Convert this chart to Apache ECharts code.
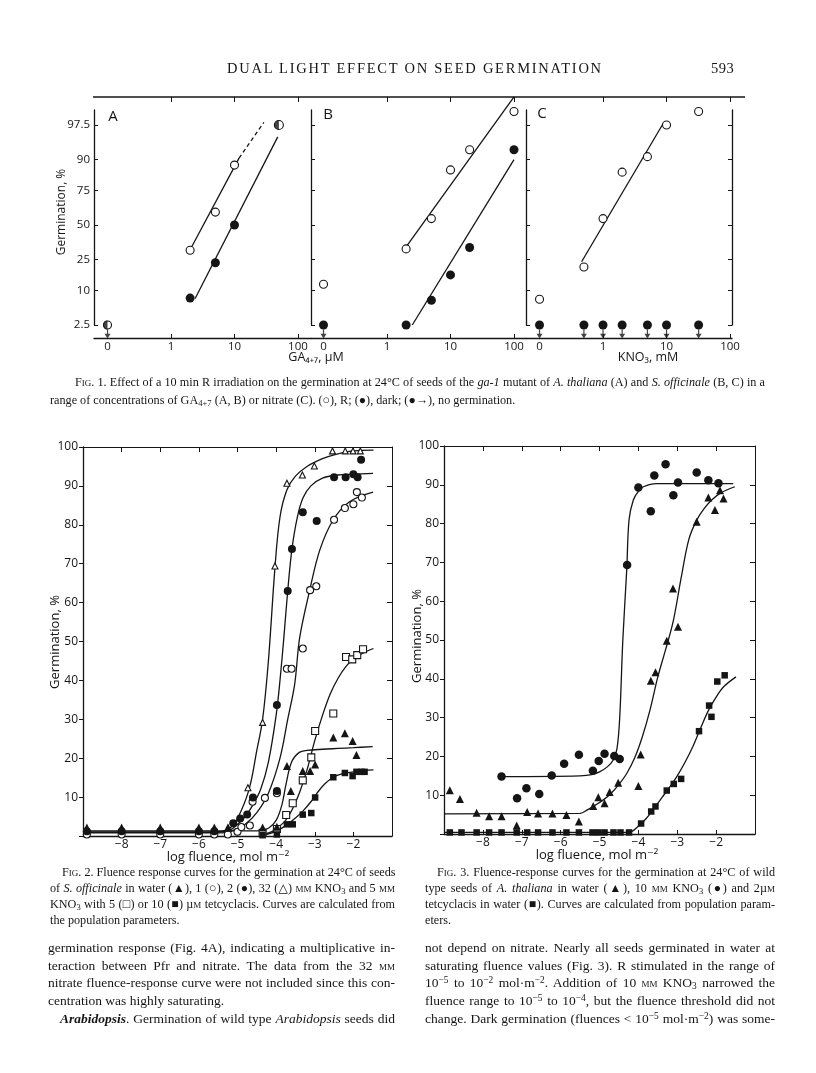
<!DOCTYPE html>
<html>
<head>
<meta charset="utf-8">
<script src="https://cdn.jsdelivr.net/npm/echarts@6/dist/echarts.min.js"></script>
<style>
  body { margin: 0; background: #fff; }
  #page { position: relative; width: 816px; height: 1073px; overflow: hidden; background: #fff; }
  #chart { position: absolute; left: 0; top: 0; width: 816px; height: 1073px; }
  .t { position: absolute; font-family: "Liberation Serif", "DejaVu Serif", serif; color: #151515; white-space: nowrap; line-height: 14px; }
  .j { text-align: justify; text-align-last: justify; }
  .cap { font-size: 12.2px; }
  .body { font-size: 13.5px; }
  .sc { font-variant: small-caps; }
  sub, sup { font-size: 70%; line-height: 0; }
  sub { vertical-align: -0.25em; }
  sup { vertical-align: 0.45em; }
</style>
</head>
<body>
<div id="page">
  <div id="chart"></div>

  <!-- running head -->
  <div class="t" style="left:227px;top:61px;font-size:14.5px;letter-spacing:1.75px;">DUAL LIGHT EFFECT ON SEED GERMINATION</div>
  <div class="t" style="left:711px;top:61px;font-size:14.5px;letter-spacing:0.5px;">593</div>

  <!-- Fig. 1 caption -->
  <div class="t cap j" style="left:75px;top:375px;width:690px;"><span class="sc">Fig.</span> 1. Effect of a 10 min R irradiation on the germination at 24°C of seeds of the <i>ga-1</i> mutant of <i>A. thaliana</i> (A) and <i>S. officinale</i> (B, C) in a</div>
  <div class="t cap" style="left:50px;top:393px;">range of concentrations of GA<sub>4+7</sub> (A, B) or nitrate (C). (○), R; (●), dark; (●→), no germination.</div>

  <!-- Fig. 2 caption -->
  <div class="t cap j" style="left:62px;top:865px;width:333px;"><span class="sc">Fig.</span> 2. Fluence response curves for the germination at 24°C of seeds</div>
  <div class="t cap j" style="left:50px;top:881px;width:345px;">of <i>S. officinale</i> in water (▲), 1 (○), 2 (●), 32 (△) <span class="sc">mm</span> KNO<sub>3</sub> and 5 <span class="sc">mm</span></div>
  <div class="t cap j" style="left:50px;top:897px;width:345px;">KNO<sub>3</sub> with 5 (□) or 10 (■) µ<span class="sc">m</span> tetcyclacis. Curves are calculated from</div>
  <div class="t cap" style="left:50px;top:913px;">the population parameters.</div>

  <!-- Fig. 3 caption -->
  <div class="t cap j" style="left:437px;top:865px;width:338px;"><span class="sc">Fig.</span> 3. Fluence-response curves for the germination at 24°C of wild</div>
  <div class="t cap j" style="left:425px;top:881px;width:350px;">type seeds of <i>A. thaliana</i> in water (▲), 10 <span class="sc">mm</span> KNO<sub>3</sub> (●) and 2µ<span class="sc">m</span></div>
  <div class="t cap j" style="left:425px;top:897px;width:350px;">tetcyclacis in water (■). Curves are calculated from population param-</div>
  <div class="t cap" style="left:425px;top:913px;">eters.</div>

  <!-- body text, left column -->
  <div class="t body j" style="left:48px;top:941px;width:347px;">germination response (Fig. 4A), indicating a multiplicative in-</div>
  <div class="t body j" style="left:48px;top:959px;width:347px;">teraction between Pfr and nitrate. The data from the 32 <span class="sc">mm</span></div>
  <div class="t body j" style="left:48px;top:976px;width:347px;">nitrate fluence-response curve were not included since this con-</div>
  <div class="t body" style="left:48px;top:994px;">centration was highly saturating.</div>
  <div class="t body j" style="left:60px;top:1012px;width:335px;"><b><i>Arabidopsis</i></b>. Germination of wild type <i>Arabidopsis</i> seeds did</div>

  <!-- body text, right column -->
  <div class="t body j" style="left:425px;top:941px;width:350px;">not depend on nitrate. Nearly all seeds germinated in water at</div>
  <div class="t body j" style="left:425px;top:959px;width:350px;">saturating fluence values (Fig. 3). R stimulated in the range of</div>
  <div class="t body j" style="left:425px;top:976px;width:350px;">10<sup>−5</sup> to 10<sup>−2</sup> mol·m<sup>−2</sup>. Addition of 10 <span class="sc">mm</span> KNO<sub>3</sub> narrowed the</div>
  <div class="t body j" style="left:425px;top:994px;width:350px;">fluence range to 10<sup>−5</sup> to 10<sup>−4</sup>, but the fluence threshold did not</div>
  <div class="t body j" style="left:425px;top:1012px;width:350px;">change. Dark germination (fluences &lt; 10<sup>−5</sup> mol·m<sup>−2</sup>) was some-</div>
</div>

<script>
// ---------- Fig. 1 data (conc. µM GA4+7 or mM KNO3; 0 = none added; germination %) ----------
const probitTicks = [2.5, 10, 25, 50, 75, 90, 97.5];
const concTickPos = [-1, 0, 1, 2];
const concTickLabels = ['0', '1', '10', '100'];

// panel A: ga-1 mutant, GA4+7
const aLightConc = [2, 5, 10];
const aLightPct = [31, 60, 88];
const aDarkConc = [2, 5, 10];
const aDarkPct = [7.6, 23, 50];
const aBothConc = [50];
const aBothPct = [97.5];
const aNoneConc = [0];
const aNonePct = [2.5];
const aLightFitConc = [2.12, 11.8];
const aLightFitPct = [33.5, 90.5];
const aLightDashConc = [11.8, 29];
const aLightDashPct = [90.5, 97.8];
const aDarkFitConc = [2.4, 48];
const aDarkFitPct = [7.5, 95.8];

// panel B: S. officinale, GA4+7
const bLightConc = [0, 2, 5, 10, 20, 100];
const bLightPct = [12.3, 32, 55, 86, 93, 98.7];
const bDarkConc = [2, 5, 10, 20, 100];
const bDarkPct = [2.5, 7, 16.4, 33, 93];
const bNoneConc = [0];
const bNonePct = [2.5];
const bLightFitConc = [2, 100];
const bLightFitPct = [33.4, 99.4];
const bDarkFitConc = [2.5, 100];
const bDarkFitPct = [2.5, 90];

// panel C: S. officinale, KNO3
const cLightConc = [0, 0.5, 1, 2, 5, 10, 32];
const cLightPct = [7.3, 20.5, 55, 85, 91, 97.5, 98.7];
const cNoneConc = [0, 0.5, 1, 2, 5, 10, 32];
const cNonePct = [2.5, 2.5, 2.5, 2.5, 2.5, 2.5, 2.5];
const cLightFitConc = [0.46, 8.9];
const cLightFitPct = [23.6, 97.7];

// ---------- Fig. 2 data: S. officinale, log fluence vs germination % ----------
const f2WaterX = [-8.9, -8, -7, -6, -5.6, -5.25, -4.35, -3.98, -3.72, -3.62, -3.31, -3.12, -2.99, -2.52, -2.22, -2.02, -1.92];
const f2WaterY = [2.2, 2.2, 2.2, 2.2, 2.2, 2.2, 2.2, 2.4, 18, 11.6, 16.7, 16.7, 18.4, 25.3, 26.4, 24.4, 20.8];
const f2No3_1X = [-8.9, -8, -7, -6, -5.6, -5.25, -5.0, -4.9, -4.68, -4.61, -4.29, -3.98, -3.72, -3.6, -3.31, -3.12, -2.96, -2.5, -2.22, -2.0, -1.91, -1.78];
const f2No3_1Y = [0.4, 0.4, 0.4, 0.4, 0.4, 0.4, 1.1, 2.3, 2.7, 8.8, 9.8, 11, 43, 43, 48.2, 63.2, 64.2, 81.3, 84.3, 85.3, 88.4, 87];
const f2No3_2X = [-8.9, -8, -7, -6, -5.6, -5.11, -4.93, -4.75, -4.6, -3.98, -3.98, -3.70, -3.59, -3.31, -2.95, -2.5, -2.2, -2.0, -1.89, -1.8];
const f2No3_2Y = [1.2, 1.2, 1.2, 1.2, 1.2, 3.3, 4.5, 5.5, 9.9, 11.6, 33.7, 63, 73.8, 83.2, 81, 92.2, 92.2, 93, 92.2, 96.7];
const f2No3_32X = [-8.9, -8, -7, -6, -5.6, -5.24, -4.73, -4.35, -4.03, -3.72, -3.32, -3.01, -2.54, -2.21, -2.01, -1.82];
const f2No3_32Y = [1.6, 1.6, 1.6, 1.6, 1.6, 2, 12.4, 29.2, 69.4, 90.7, 92.8, 95.1, 99, 99, 99, 99];
const f2Tet5X = [-4.35, -3.98, -3.74, -3.57, -3.31, -3.09, -2.99, -2.52, -2.19, -2.03, -1.9, -1.75];
const f2Tet5Y = [0.8, 1.8, 5.4, 8.4, 14.3, 20.2, 27, 31.5, 46, 45.4, 46.5, 48];
const f2Tet10X = [-4.35, -3.98, -3.72, -3.57, -3.31, -3.09, -2.99, -2.52, -2.22, -2.02, -1.92, -1.79, -1.71];
const f2Tet10Y = [0.2, 0.4, 3, 3, 5.5, 5.9, 9.9, 15.1, 16.2, 15.4, 16.5, 16.5, 16.5];
// curves
const f2WaterCurveX = [-9, -4.5, -4.2, -4.0, -3.85, -3.75, -3.6, -3.4, -3.2, -2.8, -2.4, -2.0, -1.5];
const f2WaterCurveY = [1.3, 1.3, 2, 4, 8, 13, 19, 21.5, 22, 22.3, 22.5, 22.7, 23];
const f2No3_1CurveX = [-9, -5.4, -5.1, -4.8, -4.5, -4.2, -3.9, -3.7, -3.52, -3.39, -3.13, -2.87, -2.52, -2.09, -1.49];
const f2No3_1CurveY = [0.8, 0.8, 1.5, 3, 6, 11, 20, 30, 39, 51, 63.2, 73.5, 81.3, 86, 88.4];
const f2No3_2CurveX = [-9, -5.5, -5.2, -5.0, -4.8, -4.6, -4.4, -4.2, -4.0, -3.9, -3.8, -3.7, -3.59, -3.45, -3.3, -3.1, -2.8, -2.4, -2.0, -1.49];
const f2No3_2CurveY = [1, 1, 1.5, 3, 5, 8, 12, 19, 31, 40, 51, 63, 73.8, 82, 87, 90, 92, 92.8, 93, 93.2];
const f2No3_32CurveX = [-9, -5.6, -5.2, -5.0, -4.7, -4.5, -4.35, -4.2, -4.03, -3.9, -3.72, -3.5, -3.2, -2.8, -2.5, -2.0, -1.48];
const f2No3_32CurveY = [1, 1, 2, 4.5, 12, 22, 30, 45, 69, 82, 89, 92.5, 95, 97, 98, 99, 99.2];
const f2Tet5CurveX = [-4.4, -4.1, -3.8, -3.6, -3.4, -3.2, -3.0, -2.8, -2.6, -2.4, -2.2, -2.0, -1.75, -1.48];
const f2Tet5CurveY = [0.3, 1.2, 3.5, 6.5, 11, 17, 24.5, 31, 36.5, 40.5, 43.5, 45.5, 47, 48.2];
const f2Tet10CurveX = [-4.35, -4.0, -3.72, -3.5, -3.29, -3.1, -2.95, -2.75, -2.52, -2.3, -2.0, -1.71, -1.48];
const f2Tet10CurveY = [0.2, 1.2, 2.9, 4.6, 6.6, 8.8, 10.9, 13.3, 15.1, 16, 16.5, 16.9, 17];

// ---------- Fig. 3 data: A. thaliana wild type ----------
const f3No3X = [-7.52, -7.12, -6.88, -6.55, -6.23, -5.91, -5.53, -5.17, -5.02, -4.87, -4.62, -4.48, -4.29, -4.0, -3.68, -3.59, -3.30, -3.10, -2.98, -2.50, -2.20, -1.94];
const f3No3Y = [14.8, 9.2, 11.8, 10.3, 15.1, 18.1, 20.4, 16.3, 18.8, 20.7, 20.1, 19.3, 69.3, 89.3, 83.2, 92.4, 95.3, 87.3, 90.6, 93.2, 91.2, 90.4];
const f3WaterX = [-8.85, -8.59, -8.16, -7.84, -7.52, -7.13, -6.86, -6.58, -6.21, -5.85, -5.53, -5.16, -5.03, -4.87, -4.74, -4.52, -4.0, -3.94, -3.68, -3.56, -3.27, -3.11, -2.98, -2.50, -2.20, -2.03, -1.90, -1.81];
const f3WaterY = [11.3, 9, 5.5, 4.6, 4.6, 2.2, 5.7, 5.3, 5.3, 4.9, 3.2, 7.2, 9.5, 7.9, 10.8, 13.2, 12.4, 20.5, 39.5, 41.7, 49.8, 63.3, 53.4, 80.5, 86.7, 83.5, 88.6, 86.5];
const f3TetX = [-8.85, -8.55, -8.16, -7.84, -7.52, -7.13, -6.86, -6.58, -6.21, -5.85, -5.53, -5.18, -5.03, -4.87, -4.64, -4.46, -4.24, -3.93, -3.67, -3.56, -3.27, -3.09, -2.90, -2.44, -2.18, -2.12, -1.97, -1.78];
const f3TetY = [0.4, 0.4, 0.4, 0.4, 0.4, 0.4, 0.4, 0.4, 0.4, 0.4, 0.4, 0.4, 0.4, 0.4, 0.4, 0.4, 0.4, 2.7, 5.8, 7.1, 11.2, 12.9, 14.2, 26.5, 33.1, 30.2, 39.3, 40.9];
const f3No3CurveX = [-7.52, -5.5, -5.2, -5.0, -4.8, -4.65, -4.55, -4.48, -4.4, -4.3, -4.24, -4.13, -4.0, -3.87, -3.53, -2.5, -1.56];
const f3No3CurveY = [14.8, 15, 15.3, 16, 17.3, 19, 22, 30, 50, 68, 81, 86.1, 88.3, 89.5, 90.3, 90.3, 90.3];
const f3WaterCurveX = [-9, -5.5, -5.3, -5.1, -4.9, -4.7, -4.5, -4.3, -4.1, -3.9, -3.7, -3.5, -3.3, -3.1, -2.9, -2.7, -2.5, -2.3, -2.1, -1.9, -1.52];
const f3WaterCurveY = [5.2, 5.3, 6.3, 7.5, 8.8, 10.5, 12.8, 15.6, 19.5, 25, 32, 40.5, 47.5, 55, 66, 76, 80.9, 84, 86.2, 87.8, 89.5];
const f3TetCurveX = [-9, -4.25, -4.0, -3.8, -3.6, -3.4, -3.2, -3.0, -2.8, -2.6, -2.42, -2.2, -2.0, -1.8, -1.49];
const f3TetCurveY = [0.4, 0.4, 2, 4, 6.5, 9.3, 12, 15, 18.5, 22.5, 26.8, 31.8, 35.3, 38, 40.5];

// ---------- helpers ----------
const ink = '#151515';
const sans = '"Open Sans", "DejaVu Sans", sans-serif';

// inverse normal CDF (probit scale of Fig. 1), Acklam's approximation
function probit(p) {
  const a = [-3.969683028665376e+01, 2.209460984245205e+02, -2.759285104469687e+02, 1.383577518672690e+02, -3.066479806614716e+01, 2.506628277459239e+00];
  const b = [-5.447609879822406e+01, 1.615858368580409e+02, -1.556989798598866e+02, 6.680131188771972e+01, -1.328068155288572e+01];
  const c = [-7.784894002430293e-03, -3.223964580411365e-01, -2.400758277161838e+00, -2.549671750064226e+00, 4.374664141464968e+00, 2.938163982698783e+00];
  const d = [7.784695709041462e-03, 3.224671290700398e-01, 2.445134137142996e+00, 3.754408661907416e+00];
  const pl = 0.02425;
  let q, r;
  if (p < pl) {
    q = Math.sqrt(-2 * Math.log(p));
    return (((((c[0] * q + c[1]) * q + c[2]) * q + c[3]) * q + c[4]) * q + c[5]) / ((((d[0] * q + d[1]) * q + d[2]) * q + d[3]) * q + 1);
  }
  if (p > 1 - pl) {
    q = Math.sqrt(-2 * Math.log(1 - p));
    return -(((((c[0] * q + c[1]) * q + c[2]) * q + c[3]) * q + c[4]) * q + c[5]) / ((((d[0] * q + d[1]) * q + d[2]) * q + d[3]) * q + 1);
  }
  q = p - 0.5; r = q * q;
  return (((((a[0] * r + a[1]) * r + a[2]) * r + a[3]) * r + a[4]) * r + a[5]) * q / (((((b[0] * r + b[1]) * r + b[2]) * r + b[3]) * r + b[4]) * r + 1);
}
const probitTickPos = probitTicks.map(p => probit(p / 100));
const concPos = c => (c === 0 ? -1 : Math.log10(c));   // "0" sits one decade left of 1
const conc = (cs, ps) => cs.map((c, i) => [concPos(c), probit(ps[i] / 100)]);
const pairs = (xs, ys) => xs.map((x, i) => [x, ys[i]]);

// ---------- axes ----------
const xAxes = [], yAxes = [];
const lineStyle = { color: ink, width: 1.3 };

function fig1Axes(gi, min, max, labels, right) {
  xAxes.push({
    gridIndex: gi, type: 'value', min, max, position: 'bottom', offset: 13,
    axisLine: { show: true, onZero: false, lineStyle },
    axisTick: { show: true, inside: true, length: 4, customValues: [0, 1, 2], lineStyle: { color: ink } },
    axisLabel: { customValues: concTickPos, formatter: v => concTickLabels[concTickPos.indexOf(Math.round(v))] || '',
      margin: 3, color: ink, fontFamily: sans, fontSize: 11.5 },
    splitLine: { show: false }
  });
  xAxes.push({
    gridIndex: gi, type: 'value', min, max, position: 'top', offset: 13,
    axisLine: { show: false, onZero: false },
    axisTick: { show: true, inside: true, length: 5, customValues: [0, 1, 2], lineStyle: { color: ink } },
    axisLabel: { show: false }, splitLine: { show: false }
  });
  const yBase = {
    gridIndex: gi, type: 'value', min: probit(0.025), max: 2.255,
    axisLine: { show: true, onZero: false, lineStyle },
    axisTick: { show: true, inside: true, length: 4, customValues: probitTickPos, lineStyle: { color: ink } },
    splitLine: { show: false }
  };
  yAxes.push(Object.assign({}, yBase, {
    position: 'left',
    axisLabel: { show: labels, customValues: probitTickPos, margin: 4, color: ink, fontFamily: sans, fontSize: 11.5,
      formatter: v => { const i = probitTickPos.findIndex(p => Math.abs(p - v) < 1e-6); return i < 0 ? '' : String(probitTicks[i]); } }
  }));
  if (right) yAxes.push(Object.assign({}, yBase, { position: 'right', axisLabel: { show: false } }));
}

function fluenceAxes(gi) {
  xAxes.push({
    gridIndex: gi, type: 'value', min: -9, max: -1, interval: 1, position: 'bottom',
    axisLine: { show: true, onZero: false, lineStyle },
    axisTick: { show: true, inside: true, length: 4, lineStyle: { color: ink } },
    axisLabel: { formatter: v => (v <= -9 || v >= -1) ? '' : '−' + Math.abs(v), margin: 3, color: ink, fontFamily: sans, fontSize: 12 },
    splitLine: { show: false }
  });
  xAxes.push({
    gridIndex: gi, type: 'value', min: -9, max: -1, interval: 1, position: 'top',
    axisLine: { show: true, onZero: false, lineStyle: { color: ink, width: 1 } },
    axisTick: { show: true, inside: true, length: 5, lineStyle: { color: ink } },
    axisLabel: { show: false }, splitLine: { show: false }
  });
  yAxes.push({
    gridIndex: gi, type: 'value', min: 0, max: 100, interval: 10, position: 'left',
    axisLine: { show: true, onZero: false, lineStyle },
    axisTick: { show: true, inside: false, length: 4, lineStyle: { color: ink } },
    axisLabel: { formatter: v => (v === 0 ? '' : String(v)), margin: 5, color: ink, fontFamily: sans, fontSize: 12 },
    splitLine: { show: false }
  });
  yAxes.push({
    gridIndex: gi, type: 'value', min: 0, max: 100, interval: 10, position: 'right',
    axisLine: { show: true, onZero: false, lineStyle: { color: ink, width: 1 } },
    axisTick: { show: true, inside: true, length: 5, lineStyle: { color: ink } },
    axisLabel: { show: false }, splitLine: { show: false }
  });
}

fig1Axes(0, -1.213, 2.205, true, false);   // x 0,1  y 0
fig1Axes(1, -1.197, 2.189, false, false);  // x 2,3  y 1
fig1Axes(2, -1.213, 2.031, false, true);   // x 4,5  y 2,3
fluenceAxes(3);                            // x 6,7  y 4,5
fluenceAxes(4);                            // x 8,9  y 6,7

// ---------- series ----------
const halfDisc = 'path://M5,0C2.24,0 0,2.24 0,5C0,7.76 2.24,10 5,10Z';
const downArrow = 'path://M4,0L6,0L6,6L10,6L5,13L0,6L4,6Z';

function dots(xi, yi, data, kind, size) {
  const open = kind.startsWith('open');
  const sym = { openCircle: 'circle', circle: 'circle', openTri: 'triangle', tri: 'triangle', openRect: 'rect', rect: 'rect' }[kind];
  return {
    type: 'scatter', xAxisIndex: xi, yAxisIndex: yi, data, symbol: sym, symbolSize: size, clip: false, z: open ? 3 : 4,
    itemStyle: open ? { color: '#fff', borderColor: ink, borderWidth: 1.1, opacity: 1 } : { color: ink, opacity: 1 }
  };
}
function arrows(xi, yi, data) {
  return { type: 'scatter', xAxisIndex: xi, yAxisIndex: yi, data, symbol: downArrow, symbolSize: [6, 9], symbolOffset: [0, 9],
    clip: false, itemStyle: { color: ink } };
}
function half(xi, yi, data) {
  return { type: 'scatter', xAxisIndex: xi, yAxisIndex: yi, data, symbol: halfDisc, symbolSize: [4.5, 9], symbolOffset: [-2.25, 0],
    clip: false, z: 5, itemStyle: { color: ink } };
}
function curve(xi, yi, data, dashed, smooth) {
  return { type: 'line', xAxisIndex: xi, yAxisIndex: yi, data, showSymbol: false, symbol: 'none', smooth: smooth ? 0.35 : false,
    clip: false, z: 2, lineStyle: { color: ink, width: 1.3, type: dashed ? [4, 3] : 'solid' } };
}

const series = [
  // A
  curve(0, 0, conc(aLightFitConc, aLightFitPct)),
  curve(0, 0, conc(aLightDashConc, aLightDashPct), true),
  curve(0, 0, conc(aDarkFitConc, aDarkFitPct)),
  dots(0, 0, conc(aLightConc, aLightPct), 'openCircle', 8),
  dots(0, 0, conc(aDarkConc, aDarkPct), 'circle', 9),
  dots(0, 0, conc(aBothConc, aBothPct), 'openCircle', 9),
  half(0, 0, conc(aBothConc, aBothPct)),
  dots(0, 0, conc(aNoneConc, aNonePct), 'openCircle', 8),
  half(0, 0, conc(aNoneConc, aNonePct)),
  arrows(0, 0, conc(aNoneConc, aNonePct)),
  // B
  curve(2, 1, conc(bLightFitConc, bLightFitPct)),
  curve(2, 1, conc(bDarkFitConc, bDarkFitPct)),
  dots(2, 1, conc(bLightConc, bLightPct), 'openCircle', 8),
  dots(2, 1, conc(bDarkConc, bDarkPct), 'circle', 9),
  dots(2, 1, conc(bNoneConc, bNonePct), 'circle', 9),
  arrows(2, 1, conc(bNoneConc, bNonePct)),
  // C
  curve(4, 2, conc(cLightFitConc, cLightFitPct)),
  dots(4, 2, conc(cLightConc, cLightPct), 'openCircle', 8),
  dots(4, 2, conc(cNoneConc, cNonePct), 'circle', 9),
  arrows(4, 2, conc(cNoneConc, cNonePct)),
  // Fig. 2
  curve(6, 4, pairs(f2WaterCurveX, f2WaterCurveY), false, true),
  curve(6, 4, pairs(f2No3_1CurveX, f2No3_1CurveY), false, true),
  curve(6, 4, pairs(f2No3_2CurveX, f2No3_2CurveY), false, true),
  curve(6, 4, pairs(f2No3_32CurveX, f2No3_32CurveY), false, true),
  curve(6, 4, pairs(f2Tet5CurveX, f2Tet5CurveY), false, true),
  curve(6, 4, pairs(f2Tet10CurveX, f2Tet10CurveY), false, true),
  dots(6, 4, pairs(f2No3_1X, f2No3_1Y), 'openCircle', 7),
  dots(6, 4, pairs(f2No3_32X, f2No3_32Y), 'openTri', 6),
  dots(6, 4, pairs(f2Tet5X, f2Tet5Y), 'openRect', 7),
  dots(6, 4, pairs(f2WaterX, f2WaterY), 'tri', 8),
  dots(6, 4, pairs(f2No3_2X, f2No3_2Y), 'circle', 8),
  dots(6, 4, pairs(f2Tet10X, f2Tet10Y), 'rect', 6.5),
  // Fig. 3
  curve(8, 6, pairs(f3No3CurveX, f3No3CurveY), false, true),
  curve(8, 6, pairs(f3WaterCurveX, f3WaterCurveY), false, true),
  curve(8, 6, pairs(f3TetCurveX, f3TetCurveY), false, true),
  dots(8, 6, pairs(f3WaterX, f3WaterY), 'tri', 8),
  dots(8, 6, pairs(f3No3X, f3No3Y), 'circle', 8.5),
  dots(8, 6, pairs(f3TetX, f3TetY), 'rect', 6.5)
];

// ---------- titles / labels drawn as text ----------
function label(text, x, y, size, rot) {
  return { type: 'text', x, y, rotation: rot || 0, z: 10,
    style: { text, fill: ink, fontFamily: sans, fontSize: size, align: 'center', verticalAlign: 'middle' } };
}
const graphic = [
  { type: 'line', shape: { x1: 93, y1: 97, x2: 745, y2: 97 }, style: { stroke: ink, lineWidth: 1.5 }, z: 10 },
  label('A', 113, 117, 15),
  label('B', 328, 115, 15),
  label('C', 542, 114, 15),
  label('Germination, %', 62, 212, 12, Math.PI / 2),
  label('GA₄₊₇, µM', 316, 357, 12.5),
  label('KNO₃, mM', 648, 357, 12.5),
  label('Germination, %', 55, 642, 13, Math.PI / 2),
  label('log fluence, mol m⁻²', 228, 857, 13),
  label('Germination, %', 417, 636, 13, Math.PI / 2),
  label('log fluence, mol m⁻²', 597, 855, 13)
];

const chart = echarts.init(document.getElementById('chart'));
chart.setOption({
  animation: false,
  backgroundColor: 'transparent',
  grid: [
    { left: 94, top: 110, width: 217, height: 215 },
    { left: 311, top: 110, width: 215, height: 215 },
    { left: 526, top: 110, width: 206, height: 215 },
    { left: 83, top: 447, width: 309, height: 389 },
    { left: 444, top: 446, width: 311, height: 388 }
  ],
  xAxis: xAxes,
  yAxis: yAxes,
  series,
  graphic
});
</script>
</body>
</html>
